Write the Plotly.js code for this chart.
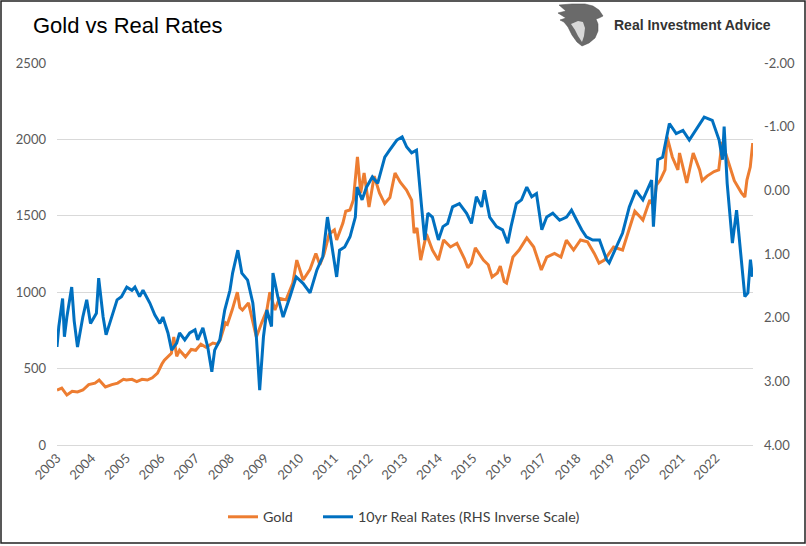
<!DOCTYPE html>
<html>
<head>
<meta charset="utf-8">
<script src="https://cdn.plot.ly/plotly-3.0.1.min.js"></script>
<style>html,body{margin:0;padding:0;background:#fff;}#chart{width:806px;height:546px;}</style>
</head>
<body>
<div id="chart"></div>
<script>
// ---- data ----
const goldDates = ["2003-01-01","2003-02-20","2003-04-15","2003-06-10","2003-08-05","2003-10-01","2003-12-01","2004-02-05","2004-03-20","2004-05-25","2004-08-01","2004-10-01","2004-12-01","2005-01-01","2005-03-01","2005-04-20","2005-06-15","2005-08-10","2005-10-01","2005-11-25","2006-01-10","2006-02-05","2006-04-20","2006-05-15","2006-06-15","2006-07-15","2006-09-15","2006-11-15","2007-01-01","2007-02-25","2007-04-20","2007-07-01","2007-08-20","2007-09-15","2007-11-10","2007-12-01","2008-01-20","2008-03-15","2008-04-10","2008-05-08","2008-07-10","2008-08-15","2008-10-01","2008-11-25","2009-01-20","2009-02-20","2009-04-15","2009-06-01","2009-08-10","2009-10-20","2009-12-01","2010-02-06","2010-04-20","2010-06-20","2010-08-01","2010-09-14","2010-11-07","2011-01-01","2011-01-25","2011-04-01","2011-05-01","2011-06-14","2011-07-20","2011-09-01","2011-10-05","2011-11-10","2011-12-20","2012-01-01","2012-02-25","2012-04-20","2012-06-14","2012-08-08","2012-10-01","2012-11-25","2013-01-30","2013-03-25","2013-04-20","2013-05-20","2013-06-28","2013-08-28","2013-10-30","2013-12-31","2014-02-25","2014-05-08","2014-07-15","2014-10-01","2014-11-07","2014-12-14","2015-01-25","2015-04-20","2015-06-10","2015-07-20","2015-09-14","2015-10-15","2015-11-25","2015-12-20","2016-02-25","2016-04-30","2016-07-20","2016-10-01","2016-12-20","2017-02-15","2017-05-08","2017-07-15","2017-09-10","2017-11-25","2018-02-06","2018-04-20","2018-07-01","2018-08-20","2018-10-15","2019-01-20","2019-04-25","2019-07-05","2019-09-01","2019-10-30","2019-11-25","2020-02-06","2020-03-20","2020-04-14","2020-05-26","2020-07-15","2020-08-06","2020-09-30","2020-11-28","2020-12-15","2021-03-01","2021-05-08","2021-07-15","2021-08-10","2021-10-01","2021-12-14","2022-02-01","2022-03-08","2022-05-20","2022-07-15","2022-09-28","2022-11-03","2022-11-25","2022-12-30","2023-01-25"];
const goldValues = [360,372,327,352,347,360,395,405,425,380,395,405,430,425,430,415,430,425,440,470,530,555,600,707,580,620,577,625,620,660,640,667,660,687,800,790,883,1000,900,883,930,830,707,798,883,1000,883,960,950,1060,1210,1080,1150,1254,1180,1250,1380,1407,1342,1453,1530,1538,1603,1885,1650,1780,1600,1558,1760,1650,1580,1620,1780,1720,1669,1603,1387,1420,1210,1380,1276,1210,1342,1296,1320,1220,1160,1190,1290,1210,1180,1100,1126,1170,1070,1060,1230,1276,1355,1296,1145,1230,1254,1230,1340,1276,1342,1330,1254,1190,1210,1296,1276,1420,1530,1490,1472,1603,1560,1700,1734,1800,2016,1885,1800,1911,1715,1911,1800,1730,1760,1790,1800,1983,1845,1730,1650,1623,1734,1819,1976];

const rateDates = ["2003-01-01","2003-01-20","2003-03-01","2003-03-20","2003-04-15","2003-06-05","2003-07-01","2003-08-05","2003-09-30","2003-11-10","2003-12-20","2004-02-20","2004-03-15","2004-05-01","2004-06-01","2004-07-30","2004-09-25","2004-11-10","2005-01-05","2005-02-28","2005-04-01","2005-05-20","2005-06-25","2005-09-05","2005-10-28","2005-12-20","2006-01-20","2006-03-15","2006-04-22","2006-06-15","2006-07-15","2006-09-08","2006-10-30","2006-12-25","2007-01-22","2007-03-18","2007-05-08","2007-06-20","2007-07-20","2007-09-12","2007-11-03","2007-12-28","2008-01-25","2008-03-20","2008-05-01","2008-07-01","2008-08-25","2008-10-01","2008-11-05","2008-12-15","2009-01-20","2009-03-10","2009-03-25","2009-05-15","2009-07-10","2009-09-20","2009-11-25","2010-02-05","2010-04-20","2010-07-01","2010-09-01","2010-10-20","2010-12-01","2011-01-01","2011-01-25","2011-02-25","2011-04-20","2011-06-15","2011-08-10","2011-08-28","2011-10-20","2011-12-05","2012-02-05","2012-04-01","2012-06-15","2012-08-05","2012-10-20","2012-12-15","2013-02-01","2013-03-25","2013-05-15","2013-07-08","2013-08-10","2013-09-12","2013-10-30","2014-01-01","2014-02-18","2014-04-08","2014-05-30","2014-08-10","2014-10-25","2014-12-15","2015-02-05","2015-04-01","2015-05-01","2015-06-25","2015-09-05","2015-11-08","2016-01-01","2016-02-05","2016-04-01","2016-05-25","2016-07-20","2016-09-10","2016-10-30","2016-12-25","2017-02-15","2017-04-20","2017-07-01","2017-09-12","2017-11-03","2017-12-28","2018-02-18","2018-04-08","2018-06-15","2018-08-25","2018-11-08","2018-12-05","2019-02-15","2019-04-25","2019-07-05","2019-09-12","2019-11-25","2020-02-25","2020-03-15","2020-04-30","2020-06-20","2020-08-30","2020-11-10","2021-01-20","2021-03-28","2021-06-05","2021-09-01","2021-11-25","2022-02-05","2022-03-12","2022-03-30","2022-05-01","2022-06-25","2022-08-08","2022-09-28","2022-11-03","2022-12-05","2023-01-01","2023-01-22"];
const rateValues = [2.46,2.14,1.70,2.30,1.99,1.52,2.05,2.46,1.99,1.72,2.09,1.93,1.38,1.99,2.27,1.99,1.72,1.67,1.52,1.57,1.52,1.67,1.57,1.77,1.96,2.09,1.99,2.24,2.51,2.40,2.24,2.35,2.24,2.19,2.35,2.16,2.46,2.85,2.51,2.35,1.88,1.57,1.30,0.94,1.30,1.41,1.77,2.30,3.14,2.30,1.88,2.14,1.30,1.67,1.99,1.67,1.36,1.46,1.61,1.25,1.04,0.42,0.83,1.14,1.36,0.94,0.89,0.73,0.42,-0.05,0.15,-0.05,-0.21,-0.11,-0.52,-0.63,-0.79,-0.84,-0.68,-0.59,-0.63,0.26,0.78,0.36,0.42,0.78,0.57,0.52,0.26,0.21,0.36,0.52,0.10,0.26,0.00,0.42,0.57,0.62,0.83,0.57,0.21,0.15,-0.05,0.10,0.05,0.62,0.42,0.36,0.47,0.42,0.31,0.47,0.62,0.73,0.78,0.78,1.09,1.14,0.89,0.67,0.26,0.00,0.15,-0.16,0.57,-0.48,-0.52,-1.05,-0.89,-0.94,-0.79,-0.94,-1.15,-1.10,-0.79,-0.48,-1.00,-0.11,0.83,0.31,1.09,1.67,1.61,1.09,1.36];

const yearLabels = ["2003","2004","2005","2006","2007","2008","2009","2010","2011","2012","2013","2014","2015","2016","2017","2018","2019","2020","2021","2022"];
const goldTicks = [0,500,1000,1500,2000,2500];
const rateTicks = [-2,-1,0,1,2,3,4];
const rateTickText = ["-2.00","-1.00","0.00","1.00","2.00","3.00","4.00"];

// ---- layout helpers (pixel -> paper) ----
const L = 57, R = 53, T = 63, B = 101, W = 806, H = 546;
const pw = W - L - R, ph = H - T - B;
const px = x => (x - L) / pw;
const py = y => (H - B - y) / ph;
const pathOf = pts => pts.map((p, i) => (i === 0 ? "M " : "L ") + px(p[0]).toFixed(4) + " " + py(p[1]).toFixed(4)).join(" ") + " Z";

const eagleOuter = pathOf([[559,5],[572,4],[585,4],[593,6],[599,10],[603,16],[599,18],[596,19],[598,24],[598,31],[595,38],[589,43],[582,46],[577,42],[572,35],[568,27],[564,22],[560,20],[566,18],[558,13],[566,11]]);
const eagleInner = pathOf([[571,24],[578,21],[583,22],[585,28],[584,36],[582,42],[578,36],[575,30]]);

const tickFont = {family: "Lato, 'Liberation Sans', sans-serif", size: 13, color: "#595959"};
const legendFont = {family: "Lato, 'Liberation Sans', sans-serif", size: 14.3, color: "#404040"};

const data = [
  {x: goldDates, y: goldValues, name: "Gold", type: "scatter", mode: "lines",
   line: {color: "#ED7D31", width: 3}, yaxis: "y", legend: "legend"},
  {x: rateDates, y: rateValues, name: "10yr Real Rates (RHS Inverse Scale)", type: "scatter", mode: "lines",
   line: {color: "#0070C0", width: 3}, yaxis: "y2", legend: "legend2"}
];

const layout = {
  width: W, height: H,
  margin: {l: L, r: R, t: T, b: B},
  paper_bgcolor: "#ffffff", plot_bgcolor: "#ffffff",
  showlegend: true,
  title: {text: "Gold vs Real Rates", x: 33 / W, xref: "container", xanchor: "left",
          y: 1 - 25 / H, yref: "container", yanchor: "middle",
          font: {family: "'Liberation Sans', Arial, sans-serif", size: 22, color: "#000"}},
  xaxis: {type: "date", range: ["2003-01-01", "2023-01-28"],
          tickvals: yearLabels.map(y => y + "-01-01"), ticktext: yearLabels,
          tickangle: -45, tickfont: tickFont, showgrid: false, zeroline: false,
          showline: false, ticks: "", ticklabelstandoff: 2},
  yaxis: {range: [0, 2500], tickvals: goldTicks, tickfont: tickFont, gridcolor: "#d9d9d9", gridwidth: 1,
          zeroline: true, zerolinecolor: "#d9d9d9", zerolinewidth: 1, showline: false, ticks: "",
          ticklabelstandoff: 10},
  yaxis2: {overlaying: "y", side: "right", range: [4, -2], tickvals: rateTicks, ticktext: rateTickText,
           tickfont: tickFont, showgrid: false, zeroline: false, showline: false, ticks: "",
           ticklabelstandoff: 10},
  legend: {orientation: "h", x: px(223), xanchor: "left", y: py(517), yanchor: "middle", font: legendFont},
  legend2: {orientation: "h", x: px(318), xanchor: "left", y: py(517), yanchor: "middle", font: legendFont},
  annotations: [
    {xref: "paper", yref: "paper", x: px(612), y: py(25), xanchor: "left", yanchor: "middle",
     text: "<b>Real Investment Advice</b>", showarrow: false,
     font: {family: "'Liberation Sans', Arial, sans-serif", size: 14, color: "#333333"}}
  ],
  shapes: [
    {type: "path", xref: "paper", yref: "paper", path: eagleOuter, fillcolor: "#6a6a6a",
     line: {color: "#4a4a4a", width: 0.5}},
    {type: "path", xref: "paper", yref: "paper", path: eagleInner, fillcolor: "#d8d8d8",
     line: {width: 0}},
    {type: "rect", xref: "paper", yref: "paper", x0: px(1), x1: px(805), y0: py(543), y1: py(1),
     line: {color: "#222222", width: 1.5}, fillcolor: "rgba(0,0,0,0)"}
  ]
};

Plotly.newPlot("chart", data, layout, {displayModeBar: false, staticPlot: true});
</script>
</body>
</html>
